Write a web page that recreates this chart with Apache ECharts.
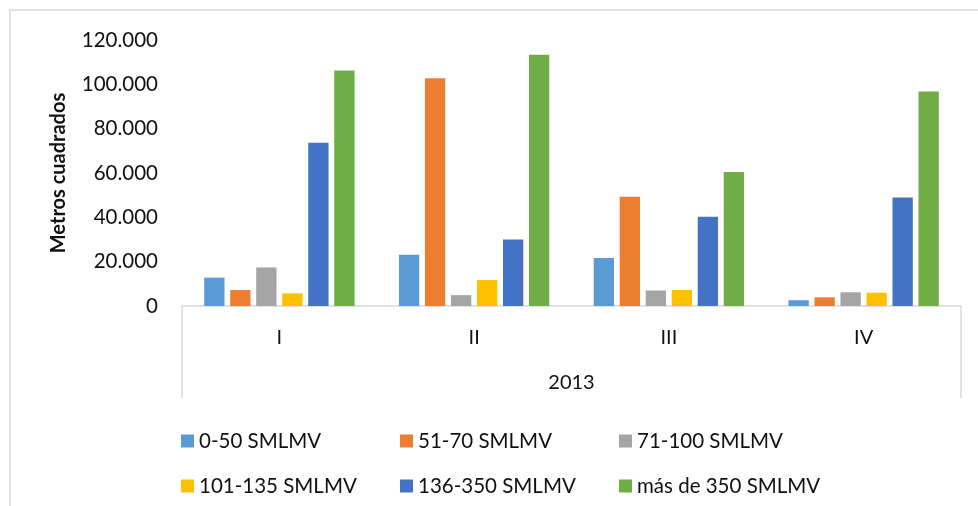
<!DOCTYPE html>
<html>
<head>
<meta charset="utf-8">
<script src="https://cdn.jsdelivr.net/npm/echarts@6/dist/echarts.min.js"></script>
<style>
  html, body { margin: 0; padding: 0; background: #fff; }
  #chart { width: 978px; height: 506px; }
</style>
</head>
<body>
<div id="chart"></div>
<script>
// trimestres
var categories = ["I", "II", "III", "IV"];
var years = ["2013"];
var seriesNames = ["0-50 SMLMV", "51-70 SMLMV", "71-100 SMLMV", "101-135 SMLMV", "136-350 SMLMV", "más de 350 SMLMV"];
var colors = ["#5b9bd5", "#ed7d31", "#a5a5a5", "#ffc000", "#4472c4", "#70ad47"];

// metros cuadrados por rango
var s0_50 = [12800, 23100, 21600, 2600];
var s51_70 = [7200, 102800, 49300, 3900];
var s71_100 = [17400, 4900, 7000, 6200];
var s101_135 = [5700, 11700, 7200, 6000];
var s136_350 = [73600, 30000, 40300, 48900];
var s350 = [106200, 113400, 60500, 96800];
var values = [s0_50, s51_70, s71_100, s101_135, s136_350, s350];

var yTicks = { min: 0, max: 120000, interval: 20000 };

var font = "Lato";
var txt = "#111";
var lineGray = "#d9d9d9";

function fmt(v) {
  return String(v).replace(/\B(?=(\d{3})+(?!\d))/g, ".");
}

var myChart = echarts.init(document.getElementById("chart"));

var grid = { left: 182, right: 17, top: 40, bottom: 200 };

myChart.setOption({
  animation: false,
  color: colors,
  textStyle: { fontFamily: font },
  graphic: [
    {
      type: "rect",
      shape: { x: 10, y: 10, width: 1000, height: 600 },
      style: { fill: "none", stroke: lineGray, lineWidth: 1.5 }
    }
  ],
  grid: [
    Object.assign({}, grid),
    Object.assign({}, grid)
  ],
  legend: [
    {
      data: seriesNames.slice(0, 3),
      left: 176,
      top: 414,
      itemWidth: 13,
      itemHeight: 13,
      itemGap: 0,
      icon: "rect",
      textStyle: { fontFamily: font, fontSize: 20.5, color: txt, width: 201, lineHeight: 44 }
    },
    {
      data: seriesNames.slice(3),
      left: 176,
      top: 459,
      itemWidth: 13,
      itemHeight: 13,
      itemGap: 0,
      icon: "rect",
      textStyle: { fontFamily: font, fontSize: 20.5, color: txt, width: 201, lineHeight: 44 }
    }
  ],
  xAxis: [
    {
      type: "category",
      gridIndex: 0,
      data: categories,
      axisLine: { lineStyle: { color: lineGray, width: 1.5 } },
      axisTick: { show: false },
      axisLabel: { color: txt, fontSize: 20, margin: 22 }
    },
    {
      type: "category",
      gridIndex: 1,
      data: years,
      axisLine: { show: false },
      axisTick: { show: true, length: 92, lineStyle: { color: lineGray, width: 1.5 } },
      axisLabel: { color: txt, fontSize: 20, margin: 67 }
    }
  ],
  yAxis: [
    {
      type: "value",
      gridIndex: 0,
      min: yTicks.min,
      max: yTicks.max,
      interval: yTicks.interval,
      name: "Metros cuadrados",
      nameLocation: "middle",
      nameGap: 113,
      nameTextStyle: { color: txt, fontSize: 20, fontWeight: "bold" },
      axisLine: { show: false },
      axisTick: { show: false },
      splitLine: { show: false },
      axisLabel: { color: txt, fontSize: 20.5, margin: 24, formatter: fmt }
    },
    { type: "value", gridIndex: 1, min: 0, max: 1, show: false }
  ],
  series: seriesNames.map(function (name, i) {
    return {
      name: name,
      type: "bar",
      xAxisIndex: 0,
      yAxisIndex: 0,
      barGap: "28%",
      barCategoryGap: "22.8%",
      itemStyle: { color: colors[i] },
      data: values[i]
    };
  })
});
</script>
</body>
</html>
